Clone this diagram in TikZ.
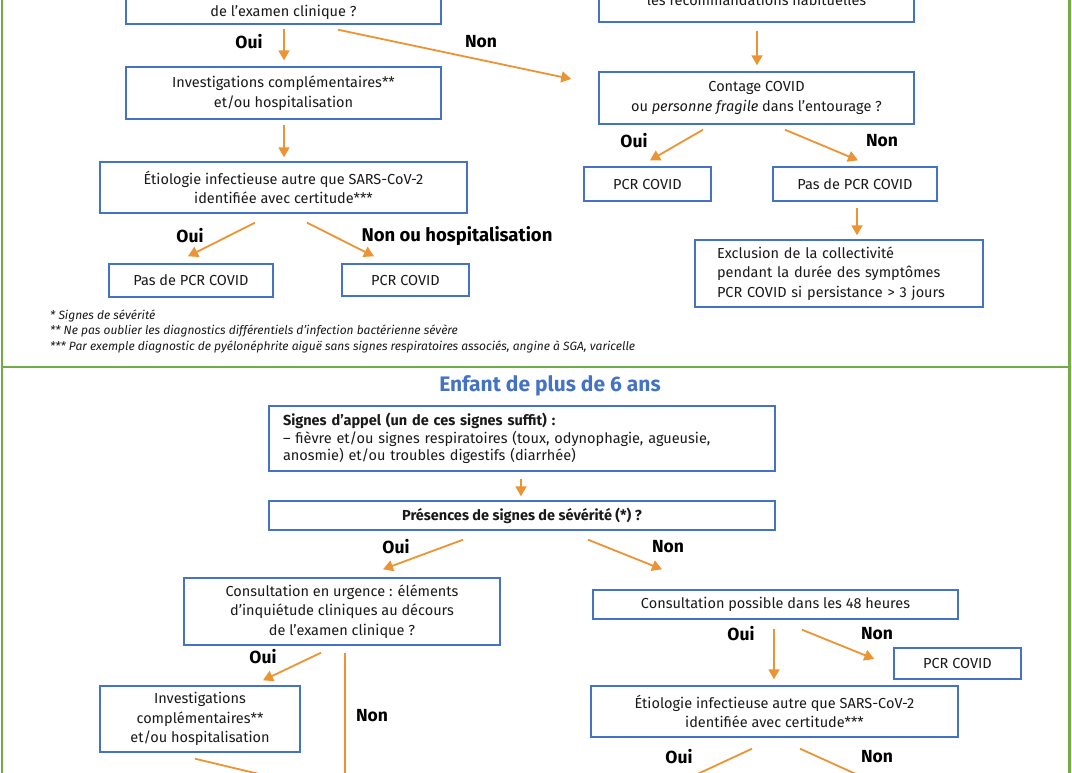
\documentclass[tikz,border=0pt]{standalone}
\usepackage{fontspec}
\setmainfont{Fira Sans}
\usetikzlibrary{arrows.meta,calc}
\definecolor{gframe}{RGB}{112,173,71}
\definecolor{bbox}{RGB}{68,114,196}
\definecolor{oarr}{RGB}{236,148,52}
\definecolor{txt}{RGB}{25,25,25}
\begin{document}
\begin{tikzpicture}[x=1pt,y=-1pt,
  box/.style={draw=bbox, line width=1.4pt, inner sep=0pt, align=center,
    font=\fontsize{14.5}{19.5}\selectfont, text=txt},
  arr/.style={draw=oarr, line width=1.8pt, -{Triangle[length=10pt,width=11pt]}},
  lab/.style={font=\fontsize{17.5}{19}\selectfont\bfseries, text=black},
  foot/.style={font=\fontsize{12}{13}\selectfont\itshape, text=txt, anchor=west, inner sep=0pt},
  frame/.style={draw=gframe, line width=2.6pt}]
\useasboundingbox (0,0) rectangle (1072,772);
\clip (0,0) rectangle (1072,772);
% frames
\draw[frame] (2,-20) rectangle (1069.5,367);
\draw[frame] (2,367) rectangle (1069.5,800);
% ---------- top section ----------
\node[box, minimum width=315, minimum height=64] (A) at (283.5,-8) {\strut\\\strut\\de l’examen clinique ?};
\node[box, minimum width=315, minimum height=65] (B) at (756.5,-10.5) {\strut\\les recommandations habituelles};
\node[box, minimum width=315, minimum height=52] (C) at (283.5,93) {Investigations complémentaires**\\et/ou hospitalisation};
\node[box, minimum width=315, minimum height=52] (D) at (756.5,98) {Contage COVID\\ou \textit{personne fragile} dans l’entourage ?};
\node[box, minimum width=367, minimum height=51] (E) at (283.5,187.5) {Étiologie infectieuse autre que SARS-CoV-2\\identifiée avec certitude***};
\node[box, minimum width=164, minimum height=33] (F) at (191,280.5) {Pas de PCR COVID};
\node[box, minimum width=127, minimum height=32] (G) at (405.5,280) {PCR COVID};
\node[box, minimum width=127, minimum height=34] (H) at (647.5,184) {PCR COVID};
\node[box, minimum width=164, minimum height=34] (I) at (855,184) {Pas de PCR COVID};
\node[box, minimum width=288, minimum height=67, align=left, text width=244, inner xsep=22] (J) at (839,273.5)
  {Exclusion de la collectivité\\pendant la durée des symptômes\\PCR COVID si persistance > 3 jours};
% arrows top
\draw[arr] ($(A.south)+(0.5,4)$) -- ($(C.north)+(0.5,-6)$);
\draw[arr] ($(A.south)+(54.5,5)$) -- ($(D.west)+(-27,-19)$);
\draw[arr] ($(B.south)+(0.5,8)$) -- ($(D.north)+(0.5,-6)$);
\draw[arr] ($(C.south)+(0.5,5)$) -- ($(E.north)+(0.5,-4)$);
\draw[arr] ($(E.south)+(-28.5,9)$) -- ($(F.north)+(-3,-7)$);
\draw[arr] ($(E.south)+(23.5,9)$) -- ($(G.north)+(-31.5,-7)$);
\draw[arr] ($(D.south)+(-53.5,5)$) -- ($(H.north)+(2.5,-6)$);
\draw[arr] ($(D.south)+(28.5,5)$) -- ($(I.north)+(3,-6)$);
\draw[arr] ($(I.south)+(2,6)$) -- ($(J.north)+(18,-4)$);
% labels top
\node[lab] (l1) at (249,42) {Oui};
\node[lab] (l2) at (481,42) {Non};
\node[lab] (l3) at (190,236) {Oui};
\node[lab, font=\fontsize{18.5}{20}\selectfont\bfseries] (l4) at (457,236) {Non ou hospitalisation};
\node[lab] (l5) at (634,141) {Oui};
\node[lab] (l6) at (882,141) {Non};
% footnotes
\node[foot] (f1) at (50,316) {* Signes de sévérité};
\node[foot] (f2) at (50,331) {** Ne pas oublier les diagnostics différentiels d’infection bactérienne sévère};
\node[foot] (f3) at (50,347) {*** Par exemple diagnostic de pyélonéphrite aiguë sans signes respiratoires associés, angine à SGA, varicelle};
% ---------- bottom section ----------
\node[font=\fontsize{21}{23}\selectfont\bfseries, text=bbox] (title) at (550,386) {Enfant de plus de 6 ans};
\node[box, minimum width=506, minimum height=65, align=left, text width=478, inner xsep=14,
  font=\fontsize{14.5}{17.5}\selectfont] (K) at (522,438.5)
  {\textbf{Signes d’appel (un de ces signes suffit) :}\\– fièvre et/ou signes respiratoires (toux, odynophagie, agueusie,\\anosmie) et/ou troubles digestifs (diarrhée)};
\node[box, minimum width=506, minimum height=29] (L) at (522,515.5) {\textbf{Présences de signes de sévérité (*) ?}};
\node[box, minimum width=316, minimum height=67] (M) at (342,611.5) {Consultation en urgence : éléments\\d’inquiétude cliniques au décours\\de l’examen clinique ?};
\node[box, minimum width=365, minimum height=29] (N) at (775.5,604.5) {Consultation possible dans les 48 heures};
\node[box, minimum width=200, minimum height=66] (O) at (200,719) {Investigations\\complémentaires**\\et/ou hospitalisation};
\node[box, minimum width=127, minimum height=31] (P) at (957.5,663.5) {PCR COVID};
\node[box, minimum width=367, minimum height=51] (Q) at (774.5,711.5) {Étiologie infectieuse autre que SARS-CoV-2\\identifiée avec certitude***};
\coordinate (mnext) at (345,788);
\coordinate (onext) at (305,785);
\coordinate (qoui) at (676,784);
\coordinate (qnon) at (878,784);
% arrows bottom
\draw[arr] ($(K.south)+(-1,7)$) -- ($(L.north)+(-1,-4)$);
\draw[arr] ($(L.south)+(-59,9)$) -- ($(M.north)+(41,-8)$);
\draw[arr] ($(L.south)+(66,9)$) -- ($(N.north)+(-113.5,-20)$);
\draw[arr] ($(M.south)+(-21,7)$) -- ($(O.north)+(63,-5)$);
\draw[arr] ($(M.south)+(3,7)$) -- (mnext);
\draw[arr] ($(O.south)+(-5,6)$) -- (onext);
\draw[arr] ($(N.south)+(-1.5,9)$) -- ($(Q.north)+(-0.5,-6)$);
\draw[arr] ($(N.south)+(26.5,10)$) -- ($(P.west)+(-19,-4.5)$);
\draw[arr] ($(Q.south)+(-22.5,11)$) -- (qoui);
\draw[arr] ($(Q.south)+(25.5,11)$) -- (qnon);
% labels bottom
\node[lab] (l7) at (396,547) {Oui};
\node[lab] (l8) at (668,547) {Non};
\node[lab] (l9) at (263,657) {Oui};
\node[lab] (l10) at (372,716) {Non};
\node[lab] (l11) at (741,634) {Oui};
\node[lab] (l12) at (877,634) {Non};
\node[lab] (l13) at (679,757) {Oui};
\node[lab] (l14) at (877,757) {Non};
\end{tikzpicture}
\end{document}
